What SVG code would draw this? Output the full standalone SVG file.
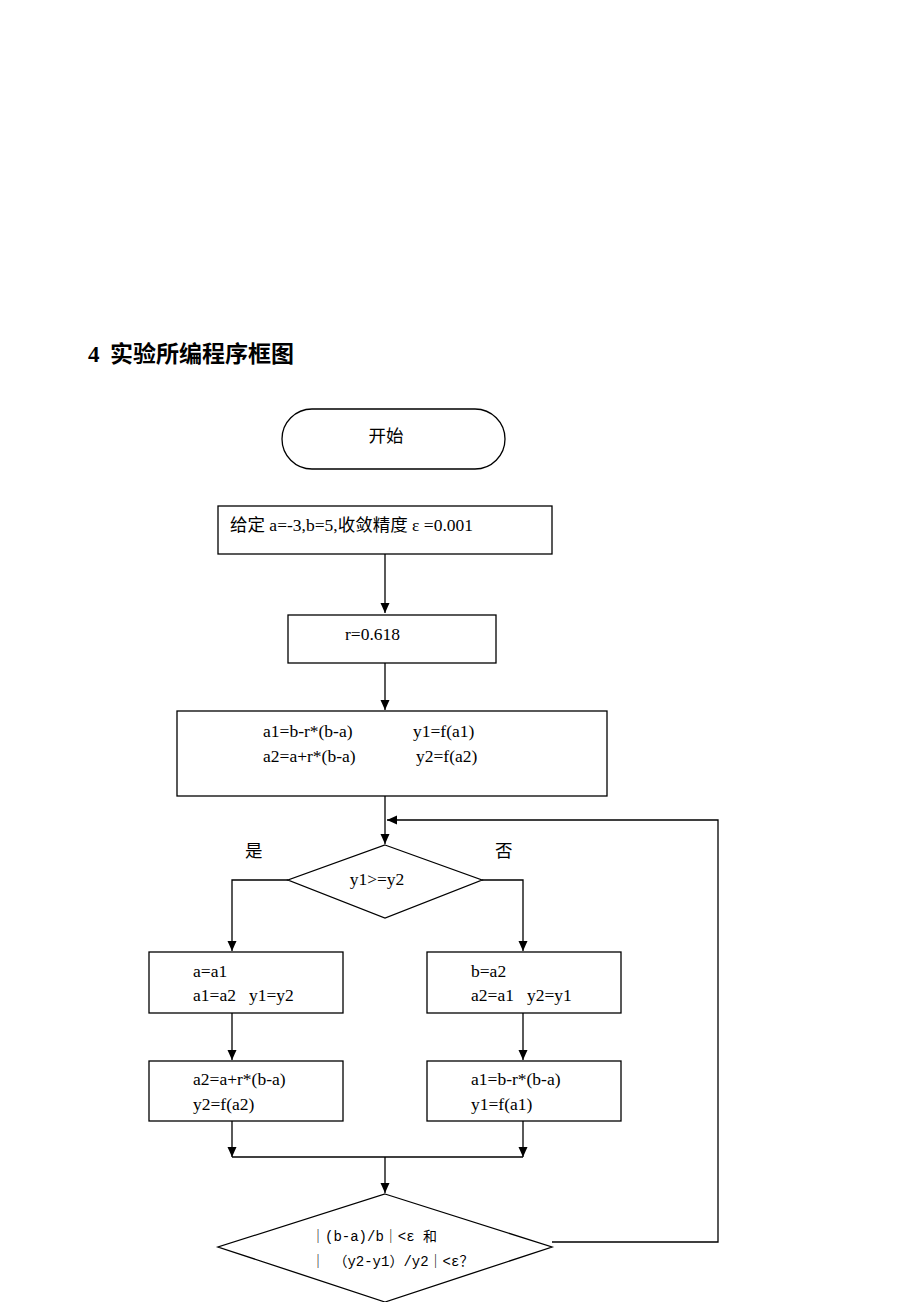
<svg xmlns="http://www.w3.org/2000/svg" width="920" height="1302" viewBox="0 0 920 1302">
<style>
.b{fill:#fff;stroke:#000;stroke-width:1.3}
.c{fill:none;stroke:#000;stroke-width:1.3}
.t{font-family:"Liberation Serif","Noto Sans CJK SC",serif;font-size:17.5px;fill:#000}
.m{font-family:"Liberation Mono","Noto Sans CJK SC",monospace;font-size:14px;fill:#000}
.h{font-family:"Liberation Serif","Noto Sans CJK SC",serif;font-size:23px;font-weight:bold;fill:#000}
</style>
<defs>
<marker id="ar" viewBox="0 0 10 10" refX="10" refY="5" markerWidth="10" markerHeight="10" markerUnits="userSpaceOnUse" orient="auto">
<path d="M0,0.5 L10,5 L0,9.5 z" fill="#000"/>
</marker>
</defs>
<rect width="920" height="1302" fill="#fff"/>
<text class="h" x="88" y="362">4</text>
<text class="h" x="110" y="362">实验所编程序框图</text>

<g id="connectors">
<line class="c" x1="385" y1="554" x2="385" y2="613" marker-end="url(#ar)"/>
<line class="c" x1="385" y1="663" x2="385" y2="710" marker-end="url(#ar)"/>
<line class="c" x1="385" y1="796" x2="385" y2="844" marker-end="url(#ar)"/>
<polyline class="c" points="552,1242 718,1242 718,820 387,820" marker-end="url(#ar)"/>
<polyline class="c" points="288,880 232,880 232,951" marker-end="url(#ar)"/>
<polyline class="c" points="482,880 523,880 523,951" marker-end="url(#ar)"/>
<line class="c" x1="232" y1="1013" x2="232" y2="1060" marker-end="url(#ar)"/>
<line class="c" x1="523" y1="1013" x2="523" y2="1060" marker-end="url(#ar)"/>
<line class="c" x1="232" y1="1121" x2="232" y2="1157" marker-end="url(#ar)"/>
<line class="c" x1="523" y1="1121" x2="523" y2="1157" marker-end="url(#ar)"/>
<line class="c" x1="232" y1="1157" x2="523" y2="1157"/>
<line class="c" x1="385" y1="1157" x2="385" y2="1193" marker-end="url(#ar)"/>
<text class="t" x="245" y="857">是</text>
<text class="t" x="495" y="857">否</text>
</g>

<g id="start">
<rect class="b" x="282" y="409" width="223" height="60" rx="30" ry="30"/>
<text class="t" x="386" y="442" text-anchor="middle">开始</text>
</g>
<g id="init">
<rect class="b" x="218" y="506" width="334" height="48"/>
<text class="t" x="230" y="531">给定 a=-3,b=5,收敛精度 ε =0.001</text>
</g>
<g id="r">
<rect class="b" x="288" y="615" width="208" height="48"/>
<text class="t" x="345" y="640">r=0.618</text>
</g>
<g id="calc">
<rect class="b" x="177" y="711" width="430" height="85"/>
<text class="t" x="263" y="737">a1=b-r*(b-a)</text>
<text class="t" x="413" y="737">y1=f(a1)</text>
<text class="t" x="263" y="762">a2=a+r*(b-a)</text>
<text class="t" x="416" y="762">y2=f(a2)</text>
</g>
<g id="cmp">
<polygon class="b" points="385,845 482,880 385,918 288,880"/>
<text class="t" x="377" y="885" text-anchor="middle">y1&gt;=y2</text>
</g>
<g id="yesA">
<rect class="b" x="149" y="952" width="194" height="61"/>
<text class="t" x="193" y="977">a=a1</text>
<text class="t" x="193" y="1001">a1=a2</text>
<text class="t" x="249" y="1001">y1=y2</text>
</g>
<g id="noA">
<rect class="b" x="427" y="952" width="194" height="61"/>
<text class="t" x="471" y="977">b=a2</text>
<text class="t" x="471" y="1001">a2=a1</text>
<text class="t" x="527" y="1001">y2=y1</text>
</g>
<g id="yesB">
<rect class="b" x="149" y="1061" width="194" height="60"/>
<text class="t" x="193" y="1085">a2=a+r*(b-a)</text>
<text class="t" x="193" y="1110">y2=f(a2)</text>
</g>
<g id="noB">
<rect class="b" x="427" y="1061" width="194" height="60"/>
<text class="t" x="471" y="1085">a1=b-r*(b-a)</text>
<text class="t" x="471" y="1110">y1=f(a1)</text>
</g>
<g id="check">
<polygon class="b" points="385,1194 552,1247 385,1302 218,1247"/>
<text class="m" x="311" y="1241">｜(b-a)/b｜&lt;ε 和</text>
<text class="m" x="311" y="1266">｜ （y2-y1）/y2｜&lt;ε？</text>
</g>
</svg>
